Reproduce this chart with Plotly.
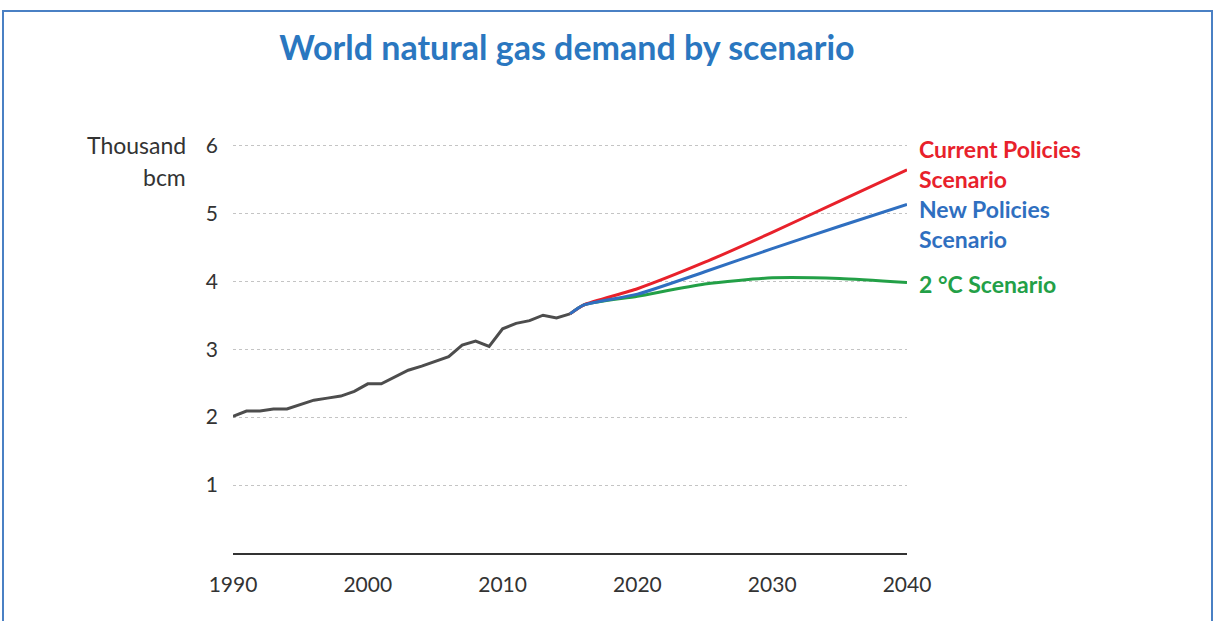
import plotly.graph_objects as go

# Historical world natural gas demand (thousand bcm)
hist_years = list(range(1990, 2016))
hist_demand = [2.01, 2.09, 2.09, 2.12, 2.12, 2.19, 2.25, 2.28, 2.31, 2.38,
               2.49, 2.49, 2.59, 2.69, 2.75, 2.82, 2.89, 3.06, 3.12, 3.04,
               3.30, 3.38, 3.42, 3.50, 3.46, 3.52]

# Scenario projections (thousand bcm)
proj_years = [2015, 2016, 2020, 2025, 2030, 2035, 2040]
current_policies = [3.52, 3.65, 3.89, 4.28, 4.72, 5.18, 5.64]
new_policies = [3.52, 3.65, 3.81, 4.14, 4.48, 4.81, 5.13]
two_degree = [3.52, 3.65, 3.78, 3.96, 4.05, 4.04, 3.98]

x_ticks = [1990, 2000, 2010, 2020, 2030, 2040]
y_ticks = [1, 2, 3, 4, 5, 6]

C_HIST = "#4d4d4d"
C_CPS = "#e8212b"
C_NPS = "#2f6fc0"
C_2DS = "#23a047"
FONT = "Lato"

fig = go.Figure()
fig.add_trace(go.Scatter(x=hist_years, y=hist_demand, mode="lines",
                         line=dict(color=C_HIST, width=3), name="Historical"))
fig.add_trace(go.Scatter(x=proj_years, y=two_degree, mode="lines",
                         line=dict(color=C_2DS, width=3, shape="spline", smoothing=0.6),
                         name="2 °C Scenario"))
fig.add_trace(go.Scatter(x=proj_years, y=current_policies, mode="lines",
                         line=dict(color=C_CPS, width=3, shape="spline", smoothing=0.6),
                         name="Current Policies Scenario"))
fig.add_trace(go.Scatter(x=proj_years, y=new_policies, mode="lines",
                         line=dict(color=C_NPS, width=3, shape="spline", smoothing=0.6),
                         name="New Policies Scenario"))

# End-of-line scenario labels, one annotation per text line
labels = [
    ("Current Policies", current_policies[-1], 21, C_CPS),
    ("Scenario", current_policies[-1], -9, C_CPS),
    ("New Policies", new_policies[-1], -4, C_NPS),
    ("Scenario", new_policies[-1], -34, C_NPS),
    ("2 °C Scenario", two_degree[-1], -1, C_2DS),
]
annotations = []
for text, yv, shift, col in labels:
    annotations.append(dict(x=proj_years[-1], y=yv, xref="x", yref="y", text=text,
                            showarrow=False, xanchor="left", yanchor="middle",
                            xshift=10, yshift=shift,
                            font=dict(family=FONT, size=23, color=col, weight=700)))

# Axis unit label
annotations.append(dict(x=-0.067, y=6, xref="paper", yref="y", text="Thousand",
                        showarrow=False, xanchor="right", yanchor="middle",
                        font=dict(family=FONT, size=23, color="#333333")))
annotations.append(dict(x=-0.067, y=6, xref="paper", yref="y", text="bcm",
                        showarrow=False, xanchor="right", yanchor="middle", yshift=-32,
                        font=dict(family=FONT, size=23, color="#333333")))

fig.update_layout(
    width=1214, height=621,
    margin=dict(l=233, r=307, t=142, b=68),
    paper_bgcolor="white", plot_bgcolor="white",
    showlegend=False,
    title=dict(text="World natural gas demand by scenario", x=567 / 1214, xanchor="center",
               y=1 - 48 / 621, yanchor="middle",
               font=dict(family=FONT, size=34, color="#2a77c0", weight=700)),
    annotations=annotations,
    shapes=[dict(type="rect", xref="paper", yref="paper",
                 x0=(3 - 233) / 674, x1=(1212 - 233) / 674,
                 y0=-1, y1=(553 - 11) / 411,
                 line=dict(color="#4a80c4", width=2), fillcolor="rgba(0,0,0,0)",
                 layer="below")],
)

fig.update_xaxes(range=[1990, 2040], tickvals=x_ticks, showgrid=False, zeroline=False,
                 showline=True, linecolor="#333333", linewidth=2, ticks="",
                 ticklabelstandoff=12,
                 tickfont=dict(family=FONT, size=21, color="#333333"))
fig.update_yaxes(range=[0, 6.05], tickvals=y_ticks, showgrid=True, gridcolor="#c4c4c4",
                 griddash="dot", gridwidth=1, zeroline=False, showline=False, ticks="",
                 ticklabelstandoff=14,
                 tickfont=dict(family=FONT, size=21, color="#333333"))

fig.write_html("out.html")
